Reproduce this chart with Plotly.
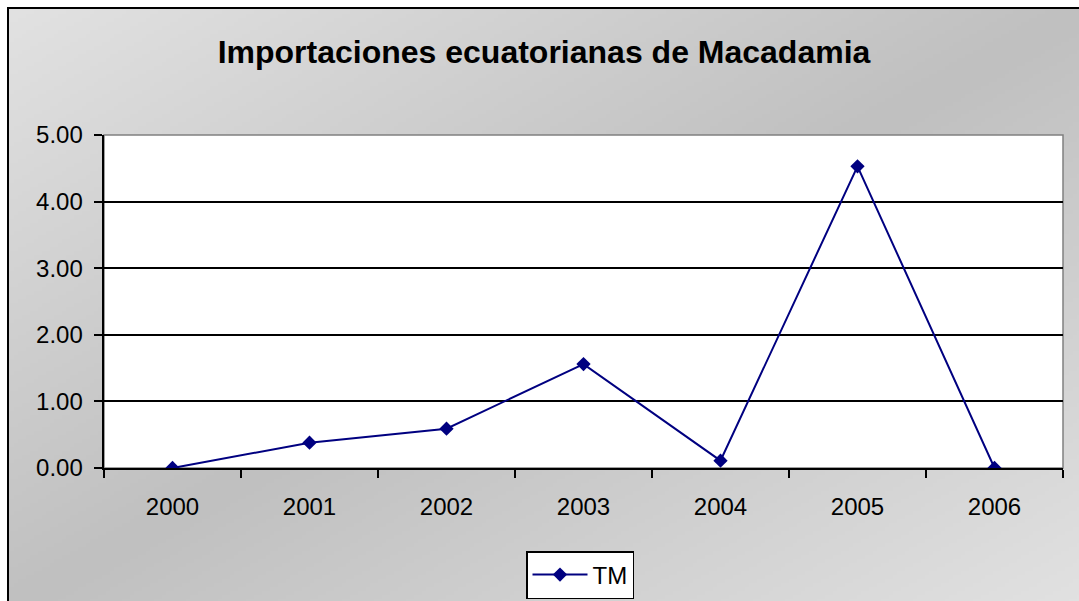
import base64, struct, zlib
import numpy as np
import plotly.graph_objects as go

# ---- data ----
years = ["2000", "2001", "2002", "2003", "2004", "2005", "2006"]
tm_values = [0.00, 0.38, 0.59, 1.56, 0.11, 4.53, 0.00]
y_ticks = [0, 1, 2, 3, 4, 5]
y_tick_labels = ["0.00", "1.00", "2.00", "3.00", "4.00", "5.00"]

W, H = 1079, 601

# ---- gradient background PNG ----
def make_png(arr):
    h, w = arr.shape
    raw = b"".join(b"\x00" + bytes(arr[r].astype(np.uint8).tolist()) for r in range(h))
    def chunk(t, d):
        c = struct.pack(">I", len(d)) + t + d
        return c + struct.pack(">I", zlib.crc32(t + d) & 0xffffffff)
    png = b"\x89PNG\r\n\x1a\n"
    png += chunk(b"IHDR", struct.pack(">IIBBBBB", w, h, 8, 0, 0, 0, 0))
    png += chunk(b"IDAT", zlib.compress(raw, 9))
    png += chunk(b"IEND", b"")
    return "data:image/png;base64," + base64.b64encode(png).decode()

gw, gh = 270, 150
xx, yy = np.meshgrid(np.linspace(0, 1, gw), np.linspace(0, 1, gh))
s = xx + yy
light, gray = 226.0, 192.0
g = gray + (light - gray) * np.clip(np.abs(s - 1.0), 0, 1)
bg_src = make_png(g)

def px(x):
    return x / W

def py(y):
    return 1 - y / H

fig = go.Figure()
fig.add_trace(go.Scatter(
    x=years, y=tm_values, mode="lines+markers", name="TM",
    line=dict(color="#000080", width=2),
    marker=dict(symbol="diamond", size=11, color="#000080"),
))

fig.update_layout(
    width=W, height=H, autosize=False,
    margin=dict(l=0, r=0, t=0, b=0, pad=0, autoexpand=False),
    paper_bgcolor="white",
    plot_bgcolor="white",
    font=dict(family="Liberation Sans, Arial, sans-serif", size=24, color="black"),
    title=dict(text="<b>Importaciones ecuatorianas de Macadamia</b>",
               x=px(544), y=py(52), xanchor="center", yanchor="middle",
               font=dict(size=32, color="black")),
    xaxis=dict(domain=[px(104), px(1063)], type="category", automargin=False,
               range=[-0.5, len(years) - 0.5],
               tickson="boundaries", ticks="outside", ticklen=8, tickcolor="black",
               tickwidth=1.5, showline=True, linecolor="black", linewidth=1.5,
               ticklabelstandoff=16,
               showgrid=False, zeroline=False, fixedrange=True),
    yaxis=dict(domain=[py(468), py(135)], range=[0, 5], tickvals=y_ticks, automargin=False,
               ticktext=[t + "\u00a0" for t in y_tick_labels],
               ticks="outside", ticklen=8, tickcolor="black",
               tickwidth=1.5, showline=True, linecolor="black", linewidth=1.5,
               showgrid=True, gridcolor="black", gridwidth=1.5, zeroline=False,
               fixedrange=True),
    showlegend=True,
    legend=dict(x=px(580), y=py(551), xanchor="center", yanchor="top",
                orientation="h", bgcolor="white", bordercolor="black", borderwidth=1.5,
                itemwidth=55, font=dict(size=24)),
    images=[dict(source=bg_src, xref="paper", yref="paper", x=px(8), y=py(8),
                 sizex=1.0, sizey=1.0, xanchor="left", yanchor="top",
                 sizing="stretch", layer="below")],
    shapes=[
        dict(type="rect", xref="paper", yref="paper", x0=px(104), y0=py(468), x1=px(1063), y1=py(135),
             line=dict(color="#808080", width=1.5), fillcolor="white", layer="below"),
        dict(type="rect", xref="paper", yref="paper", x0=px(8), y0=-0.02, x1=1.02, y1=py(8),
             line=dict(color="black", width=2), fillcolor="rgba(0,0,0,0)", layer="above"),
    ],
)

post = ("document.body.style.margin='0';document.body.style.overflow='hidden';"
        "var d=document.getElementById('{plot_id}');d.style.position='absolute';"
        "d.style.left='0px';d.style.top='0px';")
fig.write_html("out.html", post_script=post, config={"displayModeBar": False})
